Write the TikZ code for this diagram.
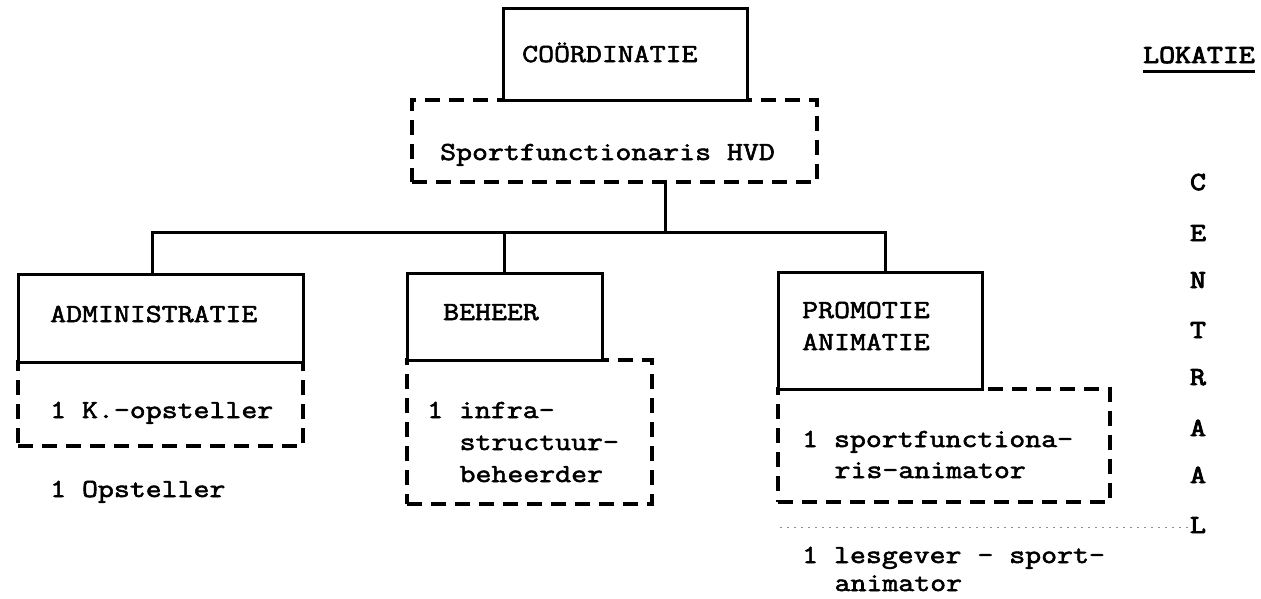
\documentclass[tikz,border=0pt]{standalone}
\usepackage{fontspec}
\newfontfamily\tw{Latin Modern Mono}[FakeStretch=1.19, FakeBold=2.2]
\newfontfamily\twb{Latin Modern Mono}[FakeStretch=1.19, FakeBold=3.6]
\tikzset{
  solidbox/.style={draw, line width=3pt, fill=white, inner sep=0pt},
  dashbox/.style={draw, line width=4pt, dash pattern=on 15pt off 9pt, inner sep=0pt},
  lbl/.style={inner sep=0pt, anchor=base west, font=\tw\fontsize{26}{32}\selectfont},
  vlbl/.style={inner sep=0pt, anchor=base, font=\twb\fontsize{26}{32}\selectfont},
  conn/.style={line width=3pt},
  leader/.style={black!45, line width=1pt, dash pattern=on 2pt off 5pt}
}
\begin{document}
\begin{tikzpicture}[x=1pt,y=-1pt]
\useasboundingbox (0,0) rectangle (1261,598);
\fill[white] (0,0) rectangle (1261,598);

% dashed boxes (drawn first)
\node[dashbox, minimum width=405pt, minimum height=82pt]  (sport)    at (614.5,141) {};
\node[dashbox, minimum width=285pt, minimum height=84pt]  (adminsub) at (160.5,404) {};
\node[dashbox, minimum width=245pt, minimum height=144pt] (behsub)   at (529.5,432) {};
\node[dashbox, minimum width=332pt, minimum height=113pt] (promsub)  at (944,445.5) {};

% solid boxes
\node[solidbox, minimum width=244pt, minimum height=92pt]  (coord)  at (625,54) {};
\node[solidbox, minimum width=285pt, minimum height=88pt]  (admin)  at (160.5,318) {};
\node[solidbox, minimum width=195pt, minimum height=87pt]  (beheer) at (504.5,316.5) {};
\node[solidbox, minimum width=204pt, minimum height=117pt] (promo)  at (880,330.5) {};

% connectors
\coordinate (jc) at (665,232);
\coordinate (ja) at (152,232);
\coordinate (jp) at (885,232);
\draw[conn] (sport.south -| jc) -- (jc);
\draw[conn] (admin.north -| ja) -- (ja) -- (jp) -- (promo.north -| jp);
\draw[conn] (beheer.north) -- (beheer.north |- jc);

% texts
\node[lbl] (tcoord) at (522,62) {COÖRDINATIE};
\node[lbl] (tsport) at (440,160) {Sportfunctionaris HVD};
\node[lbl] (tadmin) at (50,322) {ADMINISTRATIE};
\node[lbl] (tkop)   at (50,418) {1 K.-opsteller};
\node[lbl] (topst)  at (50,497) {1 Opsteller};
\node[lbl] (tbeh)   at (443,320) {BEHEER};
\node[lbl] (tinf1)  at (427,418) {1 infra-};
\node[lbl] (tinf2)  at (459.4,450) {structuur-};
\node[lbl] (tinf3)  at (459.4,482) {beheerder};
\node[lbl] (tprom1) at (802,318) {PROMOTIE};
\node[lbl] (tprom2) at (802,350) {ANIMATIE};
\node[lbl] (tsf1)   at (802,447) {1 sportfunctiona-};
\node[lbl] (tsf2)   at (834.4,478) {ris-animator};
\node[lbl] (tles1)  at (802,563) {1 lesgever - sport-};
\node[lbl] (tles2)  at (834.4,591) {animator};

% location
\node[inner sep=0pt, anchor=base west, font=\twb\fontsize{26}{32}\selectfont] (lok) at (1143,63) {LOKATIE};
\draw[line width=3pt] ([yshift=-8pt]lok.base west) -- ([yshift=-8pt]lok.base east);

\node[vlbl] (vC)  at (1198,190) {C};
\node[vlbl] (vE)  at (1198,241) {E};
\node[vlbl] (vN)  at (1198,288) {N};
\node[vlbl] (vT)  at (1198,338) {T};
\node[vlbl] (vR)  at (1198,385) {R};
\node[vlbl] (vA1) at (1198,436) {A};
\node[vlbl] (vA2) at (1198,483) {A};
\node[vlbl] (vL)  at (1198,533) {L};

\coordinate (lead) at (780,527);
\draw[leader] (lead) -- (vL.west |- lead);
\end{tikzpicture}
\end{document}
